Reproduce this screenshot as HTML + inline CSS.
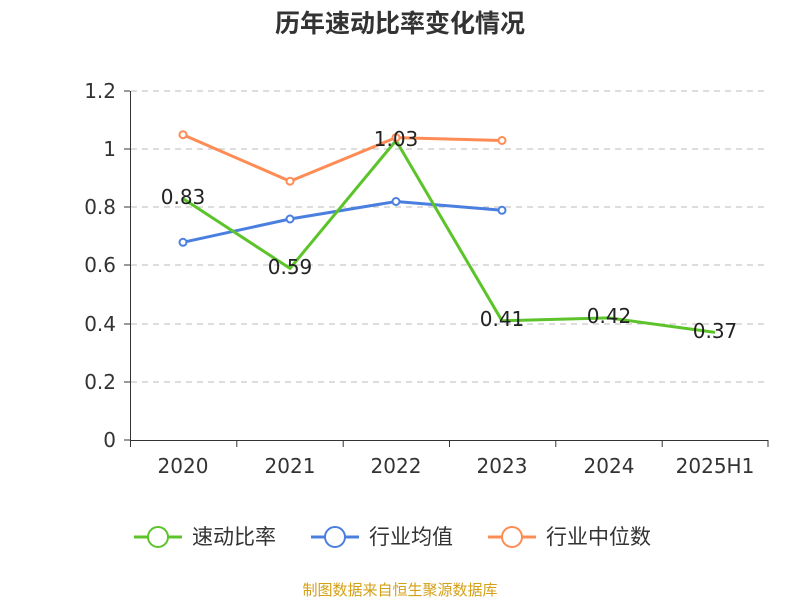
<!DOCTYPE html>
<html><head><meta charset="utf-8"><style>
html,body{margin:0;padding:0;background:#fff;width:800px;height:600px;overflow:hidden}
text{font-family:"DejaVu Sans","Noto Sans CJK SC",sans-serif}
</style></head><body>
<svg width="800" height="600" xmlns="http://www.w3.org/2000/svg">
<text x="400" y="32" text-anchor="middle" font-size="25" font-weight="bold" fill="#333">历年速动比率变化情况</text>
<g stroke="#bbb" stroke-dasharray="6,5" stroke-width="1">
<line x1="131" x2="768" y1="91" y2="91"/><line x1="131" x2="768" y1="149" y2="149"/>
<line x1="131" x2="768" y1="207" y2="207"/><line x1="131" x2="768" y1="265" y2="265"/>
<line x1="131" x2="768" y1="324" y2="324"/><line x1="131" x2="768" y1="382" y2="382"/>
</g>
<g stroke="#333" stroke-width="1">
<line x1="130.5" x2="130.5" y1="91" y2="440"/>
<line x1="130" x2="768" y1="440.5" y2="440.5"/>
<line x1="124" x2="130" y1="91" y2="91"/><line x1="124" x2="130" y1="149" y2="149"/>
<line x1="124" x2="130" y1="207" y2="207"/><line x1="124" x2="130" y1="265" y2="265"/>
<line x1="124" x2="130" y1="324" y2="324"/><line x1="124" x2="130" y1="382" y2="382"/>
<line x1="124" x2="130" y1="440" y2="440"/>
<line x1="130.5" x2="130.5" y1="440" y2="447"/><line x1="236.8" x2="236.8" y1="440" y2="447"/>
<line x1="343.2" x2="343.2" y1="440" y2="447"/><line x1="449.5" x2="449.5" y1="440" y2="447"/>
<line x1="555.8" x2="555.8" y1="440" y2="447"/><line x1="662.2" x2="662.2" y1="440" y2="447"/>
<line x1="768" x2="768" y1="440" y2="447"/>
</g>
<g font-size="20" fill="#333" text-anchor="end">
<text x="116" y="98">1.2</text><text x="116" y="156">1</text><text x="116" y="214">0.8</text>
<text x="116" y="272">0.6</text><text x="116" y="331">0.4</text><text x="116" y="389">0.2</text><text x="116" y="447">0</text>
</g>
<g font-size="20" fill="#333" text-anchor="middle">
<text x="183" y="473">2020</text><text x="290" y="473">2021</text><text x="396" y="473">2022</text>
<text x="502" y="473">2023</text><text x="609" y="473">2024</text><text x="715" y="473">2025H1</text>
</g>
<g fill="none" stroke-width="3">
<polyline stroke="#ff8c55" points="183,134.7 290,181.2 396,137.6 502,140.5"/>
<polyline stroke="#4a7fe0" points="183,242.3 290,219 396,201.5 502,210.3"/>
<polyline stroke="#5cc42a" points="183,198.6 290,268.4 396,140.5 502,320.8 609,317.9 715,332.4"/>
</g>
<g fill="#fff" stroke-width="2">
<g stroke="#ff8c55"><circle cx="183" cy="134.7" r="3.5"/><circle cx="290" cy="181.2" r="3.5"/><circle cx="396" cy="137.6" r="3.5"/><circle cx="502" cy="140.5" r="3.5"/></g>
<g stroke="#4a7fe0"><circle cx="183" cy="242.3" r="3.5"/><circle cx="290" cy="219" r="3.5"/><circle cx="396" cy="201.5" r="3.5"/><circle cx="502" cy="210.3" r="3.5"/></g>
</g>
<g font-size="20" fill="#222" text-anchor="middle">
<text x="183" y="204">0.83</text><text x="290" y="274">0.59</text><text x="396" y="146">1.03</text>
<text x="502" y="326">0.41</text><text x="609" y="323">0.42</text><text x="715" y="338">0.37</text>
</g>
<g font-size="21" fill="#333">
<line x1="134" x2="182" y1="537" y2="537" stroke="#5cc42a" stroke-width="3"/><circle cx="158" cy="537" r="10" fill="#fff" stroke="#5cc42a" stroke-width="2"/>
<text x="192" y="544">速动比率</text>
<line x1="311" x2="359" y1="537" y2="537" stroke="#4a7fe0" stroke-width="3"/><circle cx="335" cy="537" r="10" fill="#fff" stroke="#4a7fe0" stroke-width="2"/>
<text x="369" y="544">行业均值</text>
<line x1="488" x2="536" y1="537" y2="537" stroke="#ff8c55" stroke-width="3"/><circle cx="512" cy="537" r="10" fill="#fff" stroke="#ff8c55" stroke-width="2"/>
<text x="546" y="544">行业中位数</text>
</g>
<text x="400" y="595" text-anchor="middle" font-size="15" fill="#d4a017">制图数据来自恒生聚源数据库</text>
</svg>
</body></html>
